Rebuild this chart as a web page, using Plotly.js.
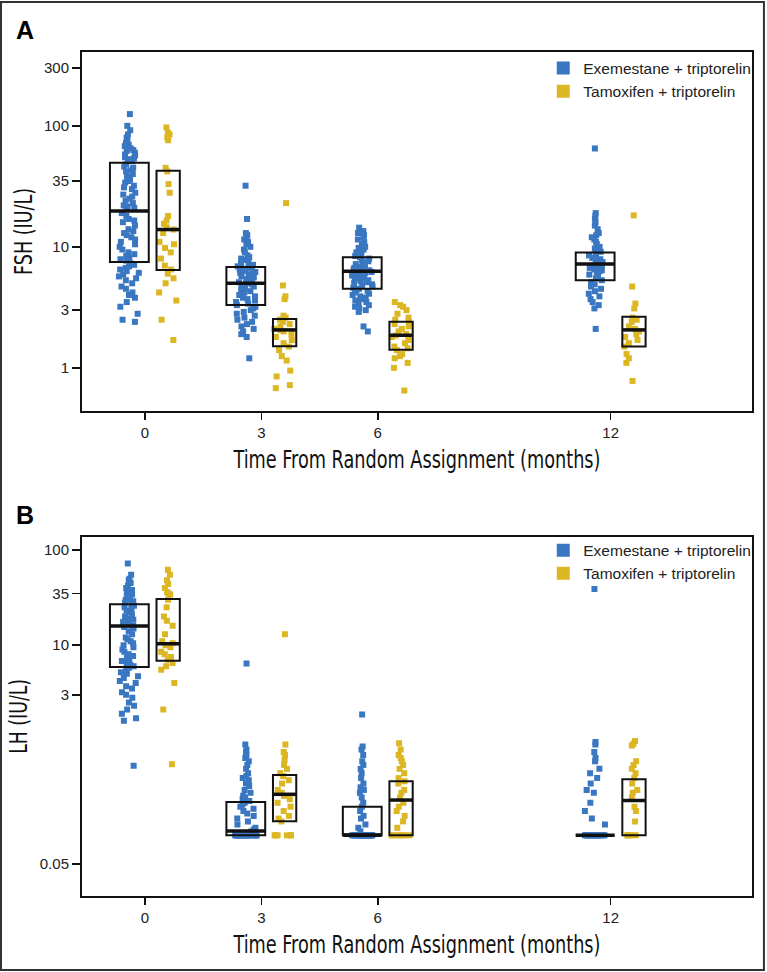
<!DOCTYPE html>
<html>
<head>
<meta charset="utf-8">
<script src="https://cdn.plot.ly/plotly-3.0.1.min.js"></script>
<style>
  html, body { margin: 0; padding: 0; background: #fff; }
  #plot { width: 767px; height: 972px; }
</style>
</head>
<body>
<div id="plot"></div>
<script>
// time points (months) and their tick labels
var months = [0, 3, 6, 12];
var monthLabels = ["0", "3", "6", "12"];
var groupNames = ["Exemestane + triptorelin", "Tamoxifen + triptorelin"];

// ---- FSH (IU/L), individual patients ----
var fshExeM0 = [125, 100, 92, 85, 80, 78, 75, 72, 70, 68, 66, 65, 63, 62, 60, 58, 57, 55, 54, 53, 52, 51,
  48, 46, 45, 43, 42, 40, 38, 36, 35, 34, 32, 31, 30, 28, 27, 26, 25, 24, 23, 22, 21.5, 21, 20.5,
  19, 18, 17, 16.5, 16, 15, 14, 13.5, 13, 12.5, 12, 11.5, 11, 10.5, 10, 9.5, 9, 8.7, 8.4, 8.1, 7.9, 7.7,
  7.3, 7.1, 6.9, 6.7, 6.5, 6.3, 6.1, 5.9, 5.7, 5.5, 5.3, 5.0, 4.7, 4.5, 4.2, 4.0, 3.8, 3.5, 3.2, 2.8, 2.5, 2.4];
var fshTamM0 = [97, 88, 85, 80, 76, 45, 42, 33, 28, 18, 16.5, 15.5, 14.5, 13.9, 13, 11, 10.5, 9.8, 9, 8,
  7, 6.5, 6, 5.5, 5, 4.2, 3.6, 2.5, 1.7];
var fshExeM3 = [32, 17, 13, 12.5, 12, 11.5, 11, 10.5, 10, 9.5, 9, 8.5, 8.2, 8, 7.8, 7.5, 7.3, 7.1, 7, 6.9,
  6.8, 6.7, 6.6, 6.5, 6.4, 6.3, 6.2, 6.1, 6, 5.9, 5.8, 5.7, 5.6, 5.5, 5.4, 5.3, 5.2, 5.1, 5.0, 5.0, 4.9,
  4.8, 4.7, 4.6, 4.5, 4.4, 4.3, 4.2, 4.1, 4.0, 3.9, 3.8, 3.7, 3.6, 3.5, 3.4, 3.3, 3.2, 3.1, 3.0, 2.9, 2.8,
  2.7, 2.6, 2.5, 2.4, 2.3, 2.2, 2.1, 2.0, 1.9, 1.8, 1.2];
var fshTamM3 = [23, 4.8, 3.9, 3.7, 2.7, 2.6, 2.5, 2.4, 2.3, 2.2, 2.1, 2.05, 2.0, 1.9, 1.8, 1.7, 1.6, 1.5,
  1.4, 1.25, 1.15, 0.95, 0.85, 0.72, 0.68];
var fshExeM6 = [14.4, 13.5, 13, 12.5, 12, 11.5, 11, 10.5, 10, 9.8, 9.5, 9.2, 9, 8.8, 8.6, 8.4, 8.2, 8, 7.8,
  7.6, 7.4, 7.2, 7, 6.9, 6.8, 6.7, 6.6, 6.5, 6.4, 6.3, 6.2, 6.1, 6, 5.9, 5.8, 5.7, 5.6, 5.5, 5.4, 5.3,
  5.2, 5.1, 5, 4.9, 4.8, 4.7, 4.6, 4.5, 4.4, 4.3, 4.2, 4.1, 4, 3.9, 3.8, 3.7, 3.6, 3.5, 3.4, 3.3, 3.2,
  3.1, 3.0, 2.9, 2.2, 2.0];
var fshTamM6 = [3.5, 3.3, 3.2, 3.0, 2.8, 2.6, 2.5, 2.4, 2.3, 2.2, 2.1, 2.0, 1.9, 1.85, 1.8, 1.7, 1.6, 1.5,
  1.45, 1.4, 1.3, 1.25, 1.2, 1.1, 1.0, 0.65];
var fshExeM12 = [65, 19, 18, 17, 16, 15, 14, 13, 12.5, 12, 11.5, 11, 10.5, 10, 9.7, 9.4, 9.1, 8.8, 8.5,
  8.3, 8.1, 7.9, 7.7, 7.5, 7.3, 7.2, 7.1, 7.0, 6.9, 6.8, 6.7, 6.6, 6.5, 6.4, 6.3, 6.1, 5.9, 5.7, 5.5,
  5.3, 5.1, 4.9, 4.7, 4.5, 4.3, 4.1, 3.9, 3.7, 3.5, 3.3, 3.1, 2.1];
var fshTamM12 = [18.2, 4.7, 3.4, 3.1, 2.6, 2.5, 2.4, 2.2, 2.1, 2.0, 1.9, 1.8, 1.7, 1.6, 1.5, 1.3, 1.2, 1.1, 0.78];

// FSH box summaries (Q1 / median / Q3) per time point
var fshExeQ1 = [7.5, 3.3, 4.5, 5.3];
var fshExeMed = [19.8, 5.0, 6.3, 7.2];
var fshExeQ3 = [49.5, 6.8, 8.2, 9.0];
var fshTamQ1 = [6.45, 1.51, 1.41, 1.50];
var fshTamMed = [13.9, 2.06, 1.86, 2.06];
var fshTamQ3 = [42.5, 2.53, 2.41, 2.65];

// ---- LH (IU/L) ----
var lhExeM0 = [72, 55, 50, 48, 45, 42, 40, 38, 36, 35, 34, 33, 32, 31, 30, 29, 28, 27, 26, 25, 24, 23, 22,
  21, 20, 19, 18.5, 18, 17.5, 17, 16.5, 16, 15.5, 15, 14, 13, 12, 11.5, 11, 10.5, 10, 9.5, 9, 8.5, 8, 7.7,
  7.4, 7.1, 6.8, 6.5, 6.2, 6, 5.8, 5.5, 5.2, 5, 4.7, 4.5, 4.2, 4, 3.7, 3.5, 3.2, 3, 2.8, 2.5, 2.3, 2.1,
  1.9, 1.7, 1.6, 0.54];
var lhTamM0 = [62, 55, 48, 44, 40, 36, 35, 34, 30, 25, 20, 18, 16, 13, 11, 10.5, 10, 9.5, 8.5, 8, 7.5, 7,
  6.5, 6, 5.5, 4, 2.1, 0.56];
var lhExeM3 = [6.4, 0.9, 0.8, 0.75, 0.7, 0.65, 0.6, 0.55, 0.5, 0.45, 0.42, 0.4, 0.38, 0.35, 0.33, 0.3, 0.28,
  0.26, 0.25, 0.24, 0.23, 0.22, 0.21, 0.2, 0.19, 0.18, 0.17, 0.16, 0.15, 0.14, 0.13, 0.12, 0.115, 0.11,
  0.1, 0.1, 0.1, 0.1, 0.1, 0.1, 0.1, 0.1, 0.1, 0.1, 0.1, 0.1, 0.1, 0.1, 0.1, 0.1, 0.1, 0.1, 0.1, 0.1,
  0.1, 0.1, 0.1, 0.1, 0.1, 0.1, 0.1, 0.1, 0.1, 0.1];
var lhTamM3 = [13, 0.9, 0.75, 0.7, 0.62, 0.55, 0.5, 0.45, 0.42, 0.38, 0.35, 0.3, 0.28, 0.26, 0.24, 0.22,
  0.2, 0.18, 0.16, 0.15, 0.14, 0.1, 0.1, 0.1, 0.1, 0.1, 0.1];
var lhExeM6 = [1.87, 0.86, 0.8, 0.7, 0.6, 0.55, 0.5, 0.45, 0.4, 0.35, 0.32, 0.3, 0.28, 0.25, 0.22, 0.2,
  0.18, 0.16, 0.15, 0.13, 0.12, 0.11, 0.1, 0.1, 0.1, 0.1, 0.1, 0.1, 0.1, 0.1, 0.1, 0.1, 0.1, 0.1, 0.1,
  0.1, 0.1, 0.1, 0.1, 0.1, 0.1, 0.1, 0.1, 0.1, 0.1, 0.1, 0.1, 0.1, 0.1, 0.1, 0.1, 0.1];
var lhTamM6 = [0.93, 0.8, 0.7, 0.65, 0.6, 0.55, 0.5, 0.45, 0.4, 0.37, 0.35, 0.3, 0.28, 0.25, 0.22, 0.2,
  0.18, 0.16, 0.14, 0.12, 0.1, 0.1, 0.1, 0.1, 0.1, 0.1, 0.1];
var lhExeM12 = [38.9, 0.96, 0.9, 0.75, 0.65, 0.6, 0.5, 0.45, 0.4, 0.35, 0.3, 0.28, 0.22, 0.18, 0.15, 0.13,
  0.1, 0.1, 0.1, 0.1, 0.1, 0.1, 0.1, 0.1, 0.1, 0.1, 0.1, 0.1, 0.1, 0.1, 0.1, 0.1, 0.1, 0.1, 0.1, 0.1,
  0.1, 0.1];
var lhTamM12 = [0.98, 0.92, 0.88, 0.6, 0.55, 0.5, 0.45, 0.4, 0.35, 0.3, 0.28, 0.25, 0.2, 0.18, 0.14,
  0.1, 0.1, 0.1, 0.1, 0.1, 0.1];

var lhExeQ1 = [5.9, 0.1, 0.1, 0.1];
var lhExeMed = [15.9, 0.111, 0.1, 0.1];
var lhExeQ3 = [26.9, 0.224, 0.2, 0.1];
var lhTamQ1 = [6.85, 0.141, 0.1, 0.1];
var lhTamMed = [10.35, 0.27, 0.235, 0.233];
var lhTamQ3 = [30.5, 0.43, 0.37, 0.388];

var exeColor = "#3a77c2";
var tamColor = "#dcb623";
var exeShift = -0.4, tamShift = 0.6;   // where each arm sits around its time point
var exeWidth = 1.0, tamWidth = 0.6;

// jittered dots: a box trace whose own box is hidden, plotly does the jitter
function pointTrace(groups, shift, color, xa, ya) {
  var x = [], y = [];
  groups.forEach(function(vals, i) {
    vals.forEach(function(v) {
      x.push(months[i] + shift);
      y.push(v);
    });
  });
  return {
    type: "box", x: x, y: y, xaxis: xa, yaxis: ya,
    boxpoints: "all", jitter: 0.55, pointpos: 0, width: 1.0,
    line: {width: 0, color: "rgba(0,0,0,0)"}, fillcolor: "rgba(0,0,0,0)", whiskerwidth: 0,
    marker: {symbol: "square", size: 6, color: color},
    showlegend: false, hoverinfo: "y"
  };
}

function boxTrace(q1, med, q3, shift, w, xa, ya) {
  return {
    type: "box", x: months.map(function(m) { return m + shift; }),
    q1: q1, median: med, q3: q3, lowerfence: q1, upperfence: q3,
    width: w, boxpoints: false, whiskerwidth: 0,
    fillcolor: "rgba(0,0,0,0)", line: {color: "#111", width: 2},
    xaxis: xa, yaxis: ya, showlegend: false, hoverinfo: "skip"
  };
}

// thicker median bars on top of the boxes
function medianTrace(med, shift, w, xa, ya) {
  var x = [], y = [];
  months.forEach(function(m, i) {
    x.push(m + shift - w / 2, m + shift + w / 2, null);
    y.push(med[i], med[i], null);
  });
  return {
    type: "scatter", mode: "lines", x: x, y: y, xaxis: xa, yaxis: ya,
    line: {color: "#111", width: 3.5}, showlegend: false, hoverinfo: "skip"
  };
}

function legendTrace(name, color, xa, ya, legendId) {
  return {
    type: "scatter", mode: "markers", x: [null], y: [null], name: name,
    marker: {symbol: "square", size: 13, color: color},
    xaxis: xa, yaxis: ya, legend: legendId
  };
}

var traces = [
  pointTrace([fshExeM0, fshExeM3, fshExeM6, fshExeM12], exeShift, exeColor, "x", "y"),
  pointTrace([fshTamM0, fshTamM3, fshTamM6, fshTamM12], tamShift, tamColor, "x", "y"),
  boxTrace(fshExeQ1, fshExeMed, fshExeQ3, exeShift, exeWidth, "x", "y"),
  boxTrace(fshTamQ1, fshTamMed, fshTamQ3, tamShift, tamWidth, "x", "y"),
  medianTrace(fshExeMed, exeShift, exeWidth, "x", "y"),
  medianTrace(fshTamMed, tamShift, tamWidth, "x", "y"),
  legendTrace(groupNames[0], exeColor, "x", "y", "legend"),
  legendTrace(groupNames[1], tamColor, "x", "y", "legend"),

  pointTrace([lhExeM0, lhExeM3, lhExeM6, lhExeM12], exeShift, exeColor, "x2", "y2"),
  pointTrace([lhTamM0, lhTamM3, lhTamM6, lhTamM12], tamShift, tamColor, "x2", "y2"),
  boxTrace(lhExeQ1, lhExeMed, lhExeQ3, exeShift, exeWidth, "x2", "y2"),
  boxTrace(lhTamQ1, lhTamMed, lhTamQ3, tamShift, tamWidth, "x2", "y2"),
  medianTrace(lhExeMed, exeShift, exeWidth, "x2", "y2"),
  medianTrace(lhTamMed, tamShift, tamWidth, "x2", "y2"),
  legendTrace(groupNames[0], exeColor, "x2", "y2", "legend2"),
  legendTrace(groupNames[1], tamColor, "x2", "y2", "legend2")
];

var tickFont = {family: "Liberation Sans, Arial, sans-serif", size: 15, color: "#222"};
var titleFont = {family: "Liberation Sans Narrow, DejaVu Sans Condensed, Arial Narrow, Liberation Sans, sans-serif", size: 24, color: "#111"};
var legendFont = {family: "Liberation Sans, Arial, sans-serif", size: 15.5, color: "#222"};

function xAxis() {
  return {
    range: [-1.62, 15.64], tickvals: months, ticktext: monthLabels,
    ticks: "outside", ticklen: 7, tickwidth: 1.5, tickcolor: "#111",
    showline: true, linecolor: "#111", linewidth: 2, mirror: true,
    showgrid: false, zeroline: false, tickfont: tickFont,
    domain: [0.1069, 0.9804],
    title: {text: "Time From Random Assignment (months)", font: titleFont, standoff: 11}
  };
}

function yAxis(range, vals, label, domain) {
  return {
    type: "log", range: range, tickvals: vals, ticktext: vals.map(String),
    ticks: "outside", ticklen: 8, tickwidth: 1.5, tickcolor: "#111",
    showline: true, linecolor: "#111", linewidth: 2, mirror: true,
    showgrid: false, zeroline: false, tickfont: tickFont,
    domain: domain,
    title: {text: label, font: titleFont, standoff: 5}
  };
}

var layout = {
  width: 767, height: 972,
  margin: {l: 0, r: 0, t: 0, b: 0},
  paper_bgcolor: "#fff", plot_bgcolor: "#fff",
  boxmode: "overlay",
  xaxis: Object.assign(xAxis(), {anchor: "y"}),
  yaxis: Object.assign(yAxis([-0.356, 2.61], [1, 3, 10, 35, 100, 300], "FSH (IU/L)", [0.5772, 0.9465]), {anchor: "x"}),
  xaxis2: Object.assign(xAxis(), {anchor: "y2"}),
  yaxis2: Object.assign(yAxis([-1.638, 2.14], [0.05, 3, 10, 35, 100], "LH (IU/L)", [0.0782, 0.4478]), {anchor: "x2"}),
  legend: {x: 0.986, xanchor: "right", y: 0.947, yanchor: "top", bgcolor: "rgba(0,0,0,0)",
           font: legendFont, itemsizing: "trace", tracegroupgap: 0},
  legend2: {x: 0.986, xanchor: "right", y: 0.451, yanchor: "top", bgcolor: "rgba(0,0,0,0)",
            font: legendFont, itemsizing: "trace", tracegroupgap: 0},
  annotations: [
    {text: "<b>A</b>", xref: "paper", yref: "paper", x: 0.018, y: 0.969, xanchor: "left", yanchor: "middle",
     showarrow: false, font: {family: "Liberation Sans, Arial, sans-serif", size: 25, color: "#000"}},
    {text: "<b>B</b>", xref: "paper", yref: "paper", x: 0.018, y: 0.470, xanchor: "left", yanchor: "middle",
     showarrow: false, font: {family: "Liberation Sans, Arial, sans-serif", size: 25, color: "#000"}}
  ],
  shapes: [
    {type: "rect", xref: "paper", yref: "paper", x0: 0.0013, x1: 0.996, y0: 0.002, y1: 0.998,
     line: {color: "#333", width: 2}}
  ]
};

Plotly.newPlot("plot", traces, layout, {displayModeBar: false, staticPlot: true}).then(function(gd) {
  // the original axis titles are set in a condensed face; squeeze them to the same width
  var titleWidths = {xtitle: 367, x2title: 367, ytitle: 87, y2title: 75};
  Object.keys(titleWidths).forEach(function(cls) {
    var t = gd.querySelector("text." + cls);
    if (t) {
      t.setAttribute("textLength", titleWidths[cls]);
      t.setAttribute("lengthAdjust", "spacingAndGlyphs");
    }
  });
});
</script>
</body>
</html>
